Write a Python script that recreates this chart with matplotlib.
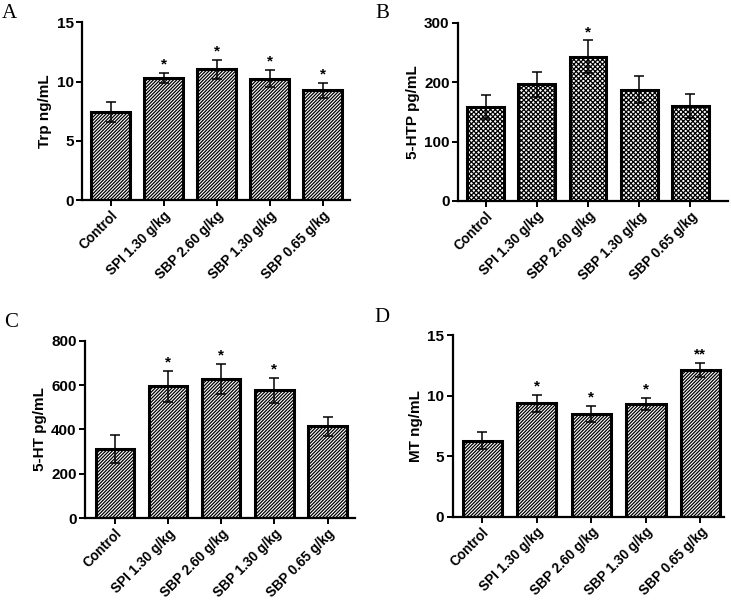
import matplotlib
matplotlib.use("Agg")
import matplotlib.pyplot as plt

plt.rcParams["font.family"] = ["Liberation Sans", "DejaVu Sans"]
plt.rcParams["hatch.linewidth"] = 0.9

groups = ["Control", "SPI 1.30 g/kg", "SBP 2.60 g/kg", "SBP 1.30 g/kg", "SBP 0.65 g/kg"]

trp_mean = [7.45, 10.3, 11.05, 10.25, 9.25]
trp_err = [0.85, 0.45, 0.8, 0.7, 0.6]
trp_sig = ["", "*", "*", "*", "*"]

htp_mean = [158, 196, 243, 187, 160]
htp_err = [20, 21, 27, 23, 20]
htp_sig = ["", "", "*", "", ""]

ht_mean = [312, 595, 627, 576, 414]
ht_err = [63, 70, 68, 58, 42]
ht_sig = ["", "*", "*", "*", ""]

mt_mean = [6.3, 9.4, 8.5, 9.3, 12.15]
mt_err = [0.7, 0.7, 0.7, 0.5, 0.6]
mt_sig = ["", "*", "*", "*", "**"]

panels = [
    # letter, ylabel, means, errs, stars, ymax, ticks, hatch, axes rect, x limits, letter pos
    ("A", "Trp ng/mL", trp_mean, trp_err, trp_sig, 15, [0, 5, 10, 15], "//////////",
     [0.112, 0.667, 0.367, 0.296], (-0.54, 4.52), (0.003, 0.993)),
    ("B", "5-HTP pg/mL", htp_mean, htp_err, htp_sig, 300, [0, 100, 200, 300], "xxxxxxx",
     [0.6265, 0.6656, 0.369, 0.2967], (-0.54, 4.73), (0.513, 0.993)),
    ("C", "5-HT pg/mL", ht_mean, ht_err, ht_sig, 800, [0, 200, 400, 600, 800], "//////////",
     [0.1163, 0.138, 0.369, 0.295], (-0.56, 4.51), (0.005, 0.48)),
    ("D", "MT ng/mL", mt_mean, mt_err, mt_sig, 15, [0, 5, 10, 15], "//////////",
     [0.6193, 0.140, 0.371, 0.302], (-0.54, 4.43), (0.512, 0.488)),
]

fig = plt.figure(figsize=(7.31, 6.01), dpi=100)
x = list(range(len(groups)))

for letter, ylab, means, errs, stars, ymax, ticks, hatch, rect, xlim, lpos in panels:
    ax = fig.add_axes(rect)
    ax.bar(x, means, width=0.72, color="white", edgecolor="black",
           linewidth=2.2, hatch=hatch, zorder=2)
    ax.errorbar(x, means, yerr=errs, fmt="none", ecolor="black",
                elinewidth=1.1, capsize=3.8, capthick=1.1, zorder=3)
    for xi, m, e, s in zip(x, means, errs, stars):
        if s:
            ax.annotate(s, (xi, m + e), xytext=(0, 1), textcoords="offset points",
                        ha="center", va="bottom", fontsize=11, fontweight="bold")
    ax.set_xlim(*xlim)
    ax.set_ylim(0, ymax)
    ax.set_yticks(ticks)
    ax.set_xticks(x)
    ax.set_xticklabels(groups, rotation=45, ha="right", rotation_mode="anchor",
                       fontsize=9.8, fontweight="bold")
    for t in ax.get_yticklabels():
        t.set_fontweight("bold")
        t.set_fontsize(11)
    ax.set_ylabel(ylab, fontsize=11, fontweight="bold", labelpad=3)
    for side in ("top", "right"):
        ax.spines[side].set_visible(False)
    for side in ("left", "bottom"):
        ax.spines[side].set_linewidth(1.6)
    ax.tick_params(axis="y", direction="out", length=4, width=1.4, pad=2)
    ax.tick_params(axis="x", direction="inout", length=8, width=1.4, pad=2)
    fig.text(lpos[0], lpos[1], letter, fontsize=15, family=["Liberation Serif", "DejaVu Serif"],
             ha="left", va="top")

fig.savefig("out.png", dpi=100, facecolor="white")
